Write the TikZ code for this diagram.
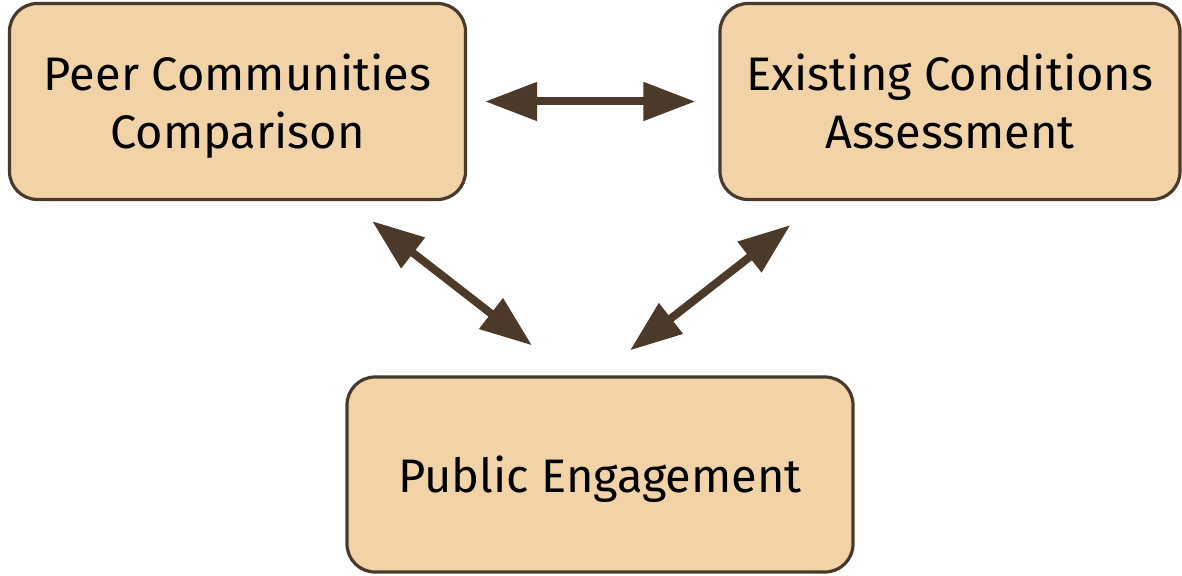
\documentclass[tikz,border=0pt]{standalone}
\usepackage{fontspec}
\setmainfont{Fira Sans}
\usetikzlibrary{arrows.meta, positioning, calc}

\definecolor{boxfill}{HTML}{F2D3A8}
\definecolor{boxline}{HTML}{4A3A2B}
\definecolor{arrowbrown}{HTML}{4B3A2A}

\begin{document}
\begin{tikzpicture}[
    x=1pt, y=1pt,
    box/.style={rectangle, rounded corners=28pt, draw=boxline, line width=3.2pt,
                fill=boxfill, align=center, minimum height=196pt, text depth=0pt,
                font=\fontsize{47}{58}\selectfont},
    link/.style={draw=arrowbrown, line width=8pt,
                 {Triangle[length=52pt, width=37pt]}-{Triangle[length=52pt, width=37pt]}}
  ]
  \useasboundingbox (0,0) rectangle (1182,575);

  % --- BOXES ---
  \node[box, minimum width=456pt] (peer) at (237.5,473.5) {Peer Communities\\Comparison};
  \node[box, minimum width=460pt] (exist) at (950,473.5) {Existing Conditions\\Assessment};
  \node[box, minimum width=506pt, minimum height=195pt] (public) at (600,100.5) {Public Engagement};

  % --- ARROW ENDS ---
  \coordinate (peerend) at ($(peer.south east)+(-95,-20)$);
  \coordinate (publeft) at ($(public.north)+(-68,30)$);
  \coordinate (existend) at ($(exist.south west)+(72,-24)$);
  \coordinate (pubright) at ($(public.north)+(30,25)$);

  % --- ARROWS ---
  \draw[link, shorten <=18pt, shorten >=23pt] (peer.east) -- (exist.west);
  \draw[link] (peerend) -- (publeft);
  \draw[link] (existend) -- (pubright);

\end{tikzpicture}
\end{document}
